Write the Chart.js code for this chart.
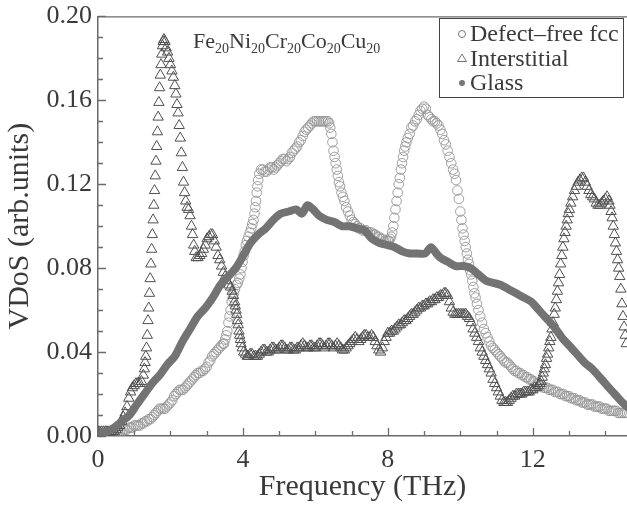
<!DOCTYPE html>
<html>
<head>
<meta charset="utf-8">
<script src="https://cdn.jsdelivr.net/npm/chart.js@4.4.1/dist/chart.umd.min.js"></script>
<style>
  html, body { margin: 0; padding: 0; background: #fff; overflow: hidden; }
</style>
</head>
<body>
<canvas id="myChart" width="627" height="506"></canvas>
<script>
// values (THz, arb. units)
const fccFreq = [0.3,0.35,0.4,0.45,0.5,0.55,0.6,0.65,0.7,0.75,0.8,0.85,0.9,0.95,1.0,1.05,1.1,1.15,1.2,1.25,1.3,1.35,1.4,1.45,1.5,1.55,1.6,1.65,1.7,1.75,1.8,1.85,1.9,1.95,2.0,2.05,2.1,2.15,2.2,2.25,2.3,2.35,2.4,2.45,2.5,2.55,2.6,2.65,2.7,2.75,2.8,2.85,2.9,2.95,3.0,3.05,3.1,3.15,3.2,3.25,3.3,3.35,3.4,3.45,3.48,3.51,3.54,3.57,3.6,3.63,3.66,3.69,3.72,3.75,3.78,3.82,3.86,3.9,3.93,3.96,3.99,4.02,4.05,4.08,4.11,4.15,4.19,4.23,4.26,4.29,4.32,4.34,4.36,4.38,4.4,4.42,4.45,4.5,4.55,4.6,4.65,4.7,4.75,4.8,4.85,4.9,4.95,5.0,5.05,5.1,5.15,5.2,5.25,5.3,5.35,5.4,5.45,5.5,5.55,5.6,5.65,5.7,5.75,5.8,5.85,5.9,5.95,6.0,6.05,6.1,6.15,6.2,6.25,6.3,6.35,6.38,6.41,6.44,6.47,6.5,6.53,6.56,6.59,6.62,6.65,6.68,6.72,6.76,6.8,6.85,6.9,6.95,7.0,7.05,7.1,7.15,7.2,7.25,7.3,7.35,7.4,7.45,7.5,7.55,7.6,7.65,7.7,7.75,7.8,7.85,7.9,7.95,8.0,8.03,8.06,8.09,8.12,8.15,8.18,8.21,8.24,8.27,8.3,8.33,8.36,8.39,8.42,8.45,8.48,8.51,8.55,8.6,8.65,8.7,8.75,8.8,8.85,8.9,8.95,9.0,9.05,9.1,9.15,9.2,9.25,9.3,9.35,9.4,9.45,9.5,9.55,9.6,9.65,9.7,9.75,9.8,9.84,9.88,9.92,9.96,10.0,10.03,10.06,10.09,10.12,10.15,10.18,10.21,10.24,10.27,10.3,10.33,10.36,10.39,10.42,10.46,10.5,10.55,10.6,10.65,10.7,10.75,10.8,10.85,10.9,10.95,11.0,11.05,11.1,11.15,11.2,11.25,11.3,11.35,11.4,11.45,11.5,11.55,11.6,11.65,11.7,11.75,11.8,11.85,11.9,11.95,12.0,12.05,12.1,12.15,12.2,12.25,12.3,12.35,12.4,12.45,12.5,12.55,12.6,12.65,12.7,12.75,12.8,12.85,12.9,12.95,13.0,13.05,13.1,13.15,13.2,13.25,13.3,13.35,13.4,13.45,13.5,13.55,13.6,13.65,13.7,13.75,13.8,13.85,13.9,13.95,14.0,14.05,14.1,14.15,14.2,14.25,14.3,14.35,14.4,14.45,14.5,14.55,14.6];
const fccVdos = [0.001,0.001,0.001,0.001,0.002,0.002,0.002,0.002,0.003,0.003,0.003,0.004,0.004,0.004,0.005,0.005,0.005,0.005,0.006,0.006,0.007,0.007,0.008,0.008,0.009,0.010,0.011,0.012,0.013,0.013,0.013,0.013,0.014,0.015,0.016,0.017,0.019,0.020,0.021,0.022,0.022,0.022,0.023,0.024,0.025,0.026,0.027,0.028,0.029,0.030,0.030,0.031,0.031,0.032,0.033,0.035,0.036,0.038,0.039,0.040,0.041,0.042,0.043,0.044,0.044,0.046,0.048,0.050,0.054,0.057,0.060,0.064,0.066,0.068,0.070,0.072,0.073,0.075,0.077,0.080,0.083,0.086,0.088,0.091,0.093,0.095,0.097,0.099,0.101,0.103,0.106,0.109,0.112,0.116,0.119,0.122,0.125,0.127,0.127,0.126,0.126,0.127,0.128,0.128,0.127,0.128,0.129,0.130,0.131,0.132,0.132,0.131,0.132,0.133,0.135,0.136,0.137,0.138,0.140,0.141,0.143,0.145,0.146,0.147,0.148,0.149,0.150,0.150,0.150,0.150,0.150,0.150,0.150,0.150,0.150,0.149,0.147,0.144,0.140,0.136,0.133,0.130,0.127,0.124,0.121,0.119,0.116,0.114,0.112,0.109,0.107,0.105,0.103,0.102,0.101,0.100,0.099,0.099,0.098,0.098,0.098,0.097,0.097,0.097,0.096,0.096,0.095,0.095,0.094,0.094,0.093,0.093,0.093,0.093,0.094,0.095,0.097,0.100,0.104,0.108,0.112,0.116,0.120,0.123,0.127,0.130,0.133,0.136,0.138,0.140,0.142,0.144,0.147,0.148,0.150,0.151,0.153,0.155,0.156,0.157,0.156,0.153,0.152,0.151,0.150,0.150,0.149,0.148,0.146,0.144,0.141,0.139,0.136,0.133,0.130,0.127,0.125,0.122,0.117,0.113,0.107,0.103,0.099,0.096,0.093,0.090,0.087,0.084,0.082,0.079,0.077,0.074,0.071,0.068,0.066,0.063,0.060,0.057,0.054,0.051,0.049,0.047,0.045,0.043,0.042,0.041,0.040,0.039,0.038,0.037,0.036,0.035,0.035,0.034,0.033,0.032,0.031,0.031,0.030,0.030,0.029,0.029,0.028,0.028,0.027,0.027,0.026,0.026,0.025,0.025,0.024,0.024,0.023,0.023,0.023,0.022,0.022,0.022,0.021,0.021,0.021,0.020,0.020,0.020,0.019,0.019,0.019,0.018,0.018,0.018,0.017,0.017,0.017,0.016,0.016,0.016,0.015,0.015,0.015,0.015,0.014,0.014,0.014,0.014,0.013,0.013,0.013,0.013,0.012,0.012,0.012,0.012,0.012,0.011,0.011,0.011,0.011,0.011,0.011];

const intFreq = [0.0,0.05,0.1,0.15,0.2,0.25,0.3,0.35,0.4,0.45,0.5,0.55,0.6,0.65,0.7,0.75,0.8,0.85,0.9,0.95,1.0,1.05,1.1,1.15,1.2,1.25,1.28,1.3,1.32,1.34,1.36,1.38,1.4,1.42,1.44,1.46,1.48,1.5,1.52,1.54,1.56,1.58,1.6,1.62,1.64,1.66,1.68,1.7,1.72,1.74,1.76,1.78,1.8,1.82,1.85,1.88,1.92,1.96,2.0,2.04,2.08,2.12,2.15,2.18,2.21,2.24,2.27,2.3,2.33,2.36,2.39,2.42,2.46,2.5,2.54,2.58,2.61,2.64,2.67,2.71,2.76,2.81,2.86,2.91,2.96,3.01,3.06,3.11,3.16,3.21,3.26,3.31,3.36,3.41,3.46,3.51,3.56,3.61,3.66,3.7,3.74,3.77,3.79,3.81,3.83,3.85,3.87,3.89,3.91,3.93,3.95,3.98,4.02,4.07,4.12,4.15,4.2,4.25,4.3,4.35,4.4,4.45,4.5,4.55,4.6,4.65,4.7,4.75,4.8,4.85,4.9,4.95,5.0,5.05,5.1,5.15,5.2,5.25,5.3,5.35,5.4,5.45,5.5,5.55,5.6,5.65,5.7,5.75,5.8,5.85,5.9,5.95,6.0,6.05,6.1,6.15,6.2,6.25,6.3,6.35,6.4,6.45,6.5,6.55,6.6,6.65,6.7,6.75,6.8,6.85,6.9,6.95,7.0,7.05,7.1,7.15,7.2,7.25,7.3,7.35,7.4,7.45,7.5,7.55,7.6,7.65,7.7,7.75,7.8,7.85,7.9,7.95,8.0,8.05,8.1,8.15,8.2,8.25,8.3,8.35,8.4,8.45,8.5,8.55,8.6,8.65,8.7,8.75,8.8,8.85,8.9,8.95,9.0,9.05,9.1,9.15,9.2,9.25,9.3,9.35,9.4,9.45,9.5,9.55,9.6,9.65,9.7,9.75,9.8,9.85,9.9,9.95,10.0,10.05,10.1,10.15,10.2,10.25,10.3,10.35,10.4,10.45,10.5,10.55,10.6,10.65,10.7,10.75,10.8,10.85,10.9,10.95,11.0,11.05,11.1,11.15,11.2,11.25,11.3,11.35,11.4,11.45,11.5,11.55,11.6,11.65,11.7,11.75,11.8,11.85,11.9,11.95,12.0,12.05,12.1,12.15,12.2,12.23,12.26,12.29,12.32,12.35,12.38,12.41,12.44,12.47,12.5,12.53,12.56,12.59,12.62,12.65,12.68,12.71,12.74,12.77,12.8,12.83,12.86,12.89,12.92,12.95,12.98,13.01,13.05,13.1,13.15,13.2,13.25,13.3,13.35,13.4,13.45,13.5,13.55,13.6,13.65,13.7,13.75,13.8,13.85,13.9,13.95,14.0,14.05,14.1,14.13,14.16,14.19,14.22,14.25,14.28,14.31,14.34,14.37,14.4,14.43,14.46,14.49,14.52,14.55,14.58];
const intVdos = [0.002,0.002,0.002,0.002,0.002,0.002,0.002,0.002,0.002,0.002,0.003,0.004,0.005,0.007,0.009,0.011,0.014,0.018,0.021,0.023,0.024,0.025,0.025,0.025,0.026,0.029,0.032,0.035,0.038,0.042,0.048,0.055,0.061,0.068,0.075,0.082,0.089,0.096,0.103,0.110,0.117,0.124,0.131,0.138,0.145,0.152,0.159,0.166,0.172,0.177,0.182,0.186,0.188,0.189,0.188,0.185,0.183,0.180,0.177,0.174,0.171,0.167,0.163,0.158,0.154,0.148,0.142,0.135,0.128,0.121,0.116,0.112,0.109,0.108,0.105,0.100,0.096,0.091,0.088,0.085,0.085,0.086,0.087,0.089,0.091,0.094,0.095,0.096,0.096,0.093,0.090,0.086,0.084,0.081,0.078,0.076,0.074,0.072,0.071,0.069,0.067,0.064,0.062,0.060,0.058,0.055,0.053,0.050,0.048,0.046,0.044,0.042,0.040,0.039,0.038,0.038,0.039,0.039,0.038,0.038,0.038,0.039,0.040,0.041,0.041,0.040,0.040,0.041,0.042,0.042,0.041,0.041,0.042,0.043,0.043,0.042,0.041,0.041,0.042,0.042,0.041,0.041,0.042,0.042,0.043,0.044,0.043,0.042,0.042,0.043,0.043,0.042,0.042,0.043,0.044,0.044,0.043,0.042,0.043,0.044,0.044,0.043,0.042,0.043,0.044,0.043,0.042,0.041,0.041,0.042,0.043,0.044,0.045,0.046,0.047,0.046,0.045,0.046,0.047,0.048,0.048,0.047,0.047,0.048,0.047,0.045,0.043,0.041,0.040,0.042,0.045,0.047,0.049,0.049,0.050,0.050,0.051,0.052,0.053,0.053,0.054,0.055,0.055,0.056,0.057,0.058,0.058,0.059,0.060,0.061,0.061,0.062,0.062,0.063,0.063,0.064,0.064,0.065,0.065,0.066,0.066,0.067,0.067,0.068,0.068,0.067,0.064,0.061,0.059,0.058,0.058,0.058,0.058,0.058,0.058,0.058,0.057,0.056,0.054,0.051,0.049,0.047,0.045,0.042,0.040,0.038,0.036,0.034,0.032,0.030,0.027,0.025,0.023,0.021,0.019,0.017,0.016,0.016,0.016,0.017,0.018,0.019,0.019,0.020,0.020,0.020,0.020,0.021,0.021,0.021,0.021,0.022,0.022,0.023,0.023,0.024,0.025,0.026,0.028,0.030,0.032,0.034,0.037,0.039,0.042,0.045,0.047,0.051,0.054,0.058,0.061,0.065,0.069,0.073,0.077,0.082,0.086,0.090,0.094,0.097,0.100,0.103,0.106,0.108,0.111,0.114,0.117,0.119,0.121,0.122,0.123,0.123,0.121,0.119,0.117,0.115,0.114,0.113,0.111,0.110,0.110,0.111,0.112,0.113,0.114,0.112,0.110,0.107,0.104,0.100,0.096,0.092,0.088,0.084,0.080,0.076,0.070,0.063,0.057,0.052,0.048,0.044];

const glassFreq = [0.0,0.24,0.45,0.66,0.87,1.07,1.28,1.49,1.7,1.91,2.12,2.33,2.54,2.75,2.96,3.17,3.38,3.59,3.8,4.01,4.21,4.42,4.63,4.84,5.05,5.26,5.47,5.63,5.78,5.94,6.1,6.31,6.52,6.73,6.94,7.15,7.36,7.56,7.77,7.98,8.19,8.4,8.61,8.82,9.03,9.19,9.34,9.45,9.66,9.87,10.08,10.29,10.5,10.71,10.91,11.12,11.33,11.54,11.75,11.96,12.17,12.38,12.59,12.8,13.01,13.22,13.43,13.64,13.85,14.05,14.26,14.47,14.68];
const glassVdos = [0.001,0.002,0.004,0.007,0.010,0.015,0.020,0.025,0.029,0.034,0.038,0.045,0.051,0.057,0.061,0.066,0.072,0.076,0.080,0.086,0.092,0.096,0.099,0.103,0.106,0.107,0.108,0.106,0.110,0.108,0.105,0.103,0.102,0.100,0.100,0.099,0.098,0.094,0.092,0.091,0.090,0.088,0.087,0.087,0.087,0.090,0.087,0.085,0.083,0.081,0.081,0.080,0.077,0.074,0.073,0.072,0.070,0.068,0.066,0.064,0.060,0.056,0.052,0.047,0.043,0.039,0.035,0.032,0.028,0.024,0.020,0.016,0.013];

const xTickValues = [0,1,2,3,4,5,6,7,8,9,10,11,12,13,14];
const yTickValues = [0,0.01,0.02,0.03,0.04,0.05,0.06,0.07,0.08,0.09,0.10,0.11,0.12,0.13,0.14,0.15,0.16,0.17,0.18,0.19,0.20];
const formulaParts = [['Fe','20'],['Ni','20'],['Cr','20'],['Co','20'],['Cu','20']];

const serif = "'Liberation Serif', 'Times New Roman', Times, serif";
const textGray = '#3a3a3a';
const axisGray = '#6a6a6a';
Chart.defaults.font.family = serif;

const toPoints = (xs, ys) => xs.map((x, i) => ({x: x, y: ys[i]}));

// inward ticks + top frame line
const frameTicks = {
  id: 'frameTicks',
  afterDraw(chart) {
    const {ctx, chartArea: a, scales: {x, y}} = chart;
    ctx.save();
    ctx.strokeStyle = axisGray;
    ctx.lineWidth = 1.3;
    ctx.beginPath();
    xTickValues.forEach(v => {
      const px = Math.round(x.getPixelForValue(v)) + 0.5;
      const len = v % 4 === 0 ? 8 : 5;
      ctx.moveTo(px, a.bottom);
      ctx.lineTo(px, a.bottom - len);
    });
    yTickValues.forEach((v, i) => {
      const py = Math.round(y.getPixelForValue(v)) + 0.5;
      const len = i % 4 === 0 ? 8 : 5;
      ctx.moveTo(a.left, py);
      ctx.lineTo(a.left + len, py);
    });
    ctx.moveTo(a.left, a.top + 0.5);
    ctx.lineTo(a.right, a.top + 0.5);
    ctx.stroke();
    ctx.restore();
  }
};

// boxed legend in the upper right corner
const legendBox = {
  id: 'legendBox',
  afterDraw(chart) {
    const ctx = chart.ctx;
    const sets = chart.data.datasets;
    ctx.save();
    ctx.fillStyle = '#fff';
    ctx.fillRect(439, 18, 184, 79);
    ctx.strokeStyle = '#444';
    ctx.lineWidth = 1;
    ctx.strokeRect(439.5, 18.5, 184, 79);
    ctx.font = '24px ' + serif;
    ctx.textBaseline = 'middle';
    sets.forEach((ds, i) => {
      const cy = 34 + i * 24.5;
      const mx = 462;
      ctx.strokeStyle = '#777';
      ctx.fillStyle = '#777';
      ctx.lineWidth = 1;
      ctx.beginPath();
      if (i === 0) {
        ctx.arc(mx, cy, 3.5, 0, Math.PI * 2);
        ctx.stroke();
      } else if (i === 1) {
        ctx.moveTo(mx, cy - 4.5);
        ctx.lineTo(mx + 4.5, cy + 3);
        ctx.lineTo(mx - 4.5, cy + 3);
        ctx.closePath();
        ctx.stroke();
      } else {
        ctx.arc(mx, cy, 3, 0, Math.PI * 2);
        ctx.fill();
      }
      ctx.fillStyle = textGray;
      ctx.fillText(ds.label, 470, cy + 1);
    });
    ctx.restore();
  }
};

// composition label with subscripts
const formulaTitle = {
  id: 'formulaTitle',
  afterDraw(chart) {
    const ctx = chart.ctx;
    let px = 193;
    const base = 48;
    ctx.save();
    ctx.fillStyle = textGray;
    ctx.textBaseline = 'alphabetic';
    formulaParts.forEach(p => {
      ctx.font = '22px ' + serif;
      ctx.fillText(p[0], px, base);
      px += ctx.measureText(p[0]).width;
      ctx.font = '14px ' + serif;
      ctx.fillText(p[1], px, base + 5);
      px += ctx.measureText(p[1]).width;
    });
    ctx.restore();
  }
};

const ctx = document.getElementById('myChart').getContext('2d');
const chart = new Chart(ctx, {
  type: 'scatter',
  data: {
    datasets: [
      {
        label: 'Defect\u2013free fcc',
        data: toPoints(fccFreq, fccVdos),
        pointStyle: 'circle',
        pointRadius: 4.8,
        pointBorderWidth: 0.9,
        borderColor: '#959595',
        backgroundColor: 'rgba(255,255,255,0)',
        order: 2
      },
      {
        label: 'Interstitial',
        data: toPoints(intFreq, intVdos),
        pointStyle: 'triangle',
        pointRadius: 6,
        pointBorderWidth: 1,
        borderColor: '#505050',
        backgroundColor: 'rgba(255,255,255,0)',
        order: 1
      },
      {
        label: 'Glass',
        data: toPoints(glassFreq, glassVdos),
        showLine: true,
        pointRadius: 0,
        borderWidth: 8,
        borderColor: '#737373',
        backgroundColor: '#737373',
        tension: 0.3,
        borderCapStyle: 'round',
        borderJoinStyle: 'round',
        order: 0
      }
    ]
  },
  options: {
    responsive: false,
    animation: false,
    devicePixelRatio: 1,
    layout: { autoPadding: false, padding: { top: 13, right: 0, left: 0, bottom: 0 } },
    plugins: { legend: { display: false }, tooltip: { enabled: false } },
    scales: {
      x: {
        type: 'linear',
        min: 0,
        max: 14.6,
        grid: { display: false, drawTicks: false },
        border: { display: true, color: axisGray, width: 1.5 },
        ticks: {
          stepSize: 4,
          includeBounds: false,
          maxRotation: 0,
          padding: 9,
          color: textGray,
          font: { family: serif, size: 26 }
        },
        title: {
          display: true,
          text: 'Frequency (THz)',
          color: textGray,
          font: { family: serif, size: 30 },
          padding: { top: 0, bottom: 1 }
        },
        afterFit(s) { s.height = 70; }
      },
      y: {
        min: 0,
        max: 0.2,
        grid: { display: false, drawTicks: false },
        border: { display: true, color: axisGray, width: 1.5 },
        ticks: {
          stepSize: 0.04,
          padding: 6,
          color: textGray,
          font: { family: serif, size: 26, lineHeight: 0.8 },
          callback: v => v.toFixed(2)
        },
        title: {
          display: true,
          text: 'VDoS (arb.units)',
          color: textGray,
          font: { family: serif, size: 30 },
          padding: { top: 2, bottom: 0 }
        },
        afterFit(s) { s.width = 98; }
      }
    }
  },
  plugins: [frameTicks, legendBox, formulaTitle]
});
</script>
</body>
</html>
